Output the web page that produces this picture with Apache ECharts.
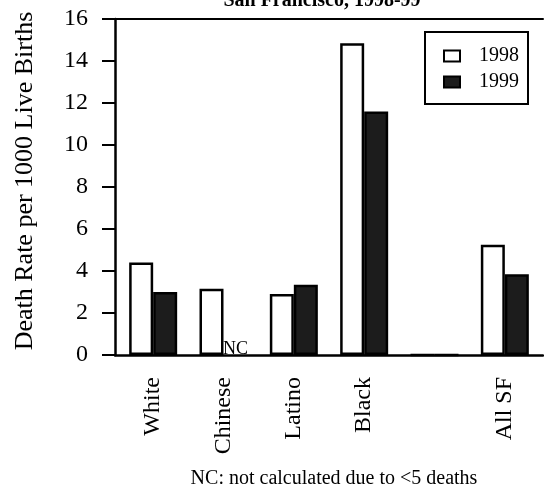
<!DOCTYPE html>
<html>
<head>
<meta charset="utf-8">
<script src="https://cdn.jsdelivr.net/npm/echarts@6/dist/echarts.min.js"></script>
<style>
  html, body { margin: 0; padding: 0; background: #fff; }
  #chart { width: 544px; height: 486px; }
</style>
</head>
<body>
<div id="chart"></div>
<script>
// Infant death rates by group, San Francisco 1998-99
const categories = ['White', 'Chinese', 'Latino', 'Black', '', 'All SF'];
const rates1998 = [4.4, 3.15, 2.9, 14.85, 0, 5.25];
const rates1999 = [3.0, 0, 3.35, 11.6, 0, 3.85];
const notCalculated1999 = [false, true, false, false, false, false];
const yTicks = { min: 0, max: 16, interval: 2 };

const SERIF = '"Liberation Serif", "DejaVu Serif", serif';
const DARK = '#1c1c1c';

const chart = echarts.init(document.getElementById('chart'), null, { renderer: 'canvas' });

const data1999 = rates1999.map((v, i) => notCalculated1999[i]
  ? {
      value: v,
      itemStyle: { borderWidth: 0, color: 'rgba(0,0,0,0)' },
      label: {
        show: true, position: 'top', distance: -3, formatter: 'NC',
        fontFamily: SERIF, fontSize: 18, color: '#000'
      }
    }
  : v);

chart.setOption({
  animation: false,
  backgroundColor: '#fff',
  title: [
    {
      text: 'San Francisco, 1998-99',
      left: 317, top: -14, textAlign: 'center',
      textStyle: { fontFamily: SERIF, fontSize: 20, fontWeight: 'bold', color: '#000' }
    },
    {
      text: 'NC: not calculated due to <5 deaths',
      left: 329, top: 464, textAlign: 'center',
      textStyle: { fontFamily: SERIF, fontSize: 20, fontWeight: 'normal', color: '#000' }
    }
  ],
  legend: {
    orient: 'vertical',
    left: 425, top: 32,
    padding: [14, 9, 12, 18],
    itemGap: 6,
    itemWidth: 16, itemHeight: 11,
    borderColor: '#000', borderWidth: 2,
    icon: 'rect',
    textStyle: { fontFamily: SERIF, fontSize: 20, color: '#000', padding: [0, 0, 0, 14] },
    data: ['1998', '1999']
  },
  grid: [
    { left: 115, right: 1, top: 19, bottom: 131 },
    { left: 118, right: 4, top: 19, bottom: 131 }
  ],
  xAxis: [
    {
      gridIndex: 0, type: 'category', data: categories, position: 'bottom',
      axisLine: { show: true, lineStyle: { color: '#000', width: 2.5 } },
      axisTick: { show: false }, axisLabel: { show: false }, splitLine: { show: false }
    },
    {
      gridIndex: 0, type: 'category', data: categories, position: 'top',
      axisLine: { show: true, lineStyle: { color: '#000', width: 2 } },
      axisTick: { show: false }, axisLabel: { show: false }, splitLine: { show: false }
    },
    {
      gridIndex: 1, type: 'category', data: categories, position: 'bottom',
      axisLine: { show: false }, axisTick: { show: false },
      axisLabel: {
        show: true, rotate: 90, margin: 22, interval: 0,
        fontFamily: SERIF, fontSize: 24, color: '#000'
      },
      splitLine: { show: false }
    }
  ],
  yAxis: [
    {
      gridIndex: 0, type: 'value',
      min: yTicks.min, max: yTicks.max, interval: yTicks.interval,
      name: 'Death Rate per 1000 Live Births',
      nameLocation: 'middle', nameRotate: 90, nameGap: 77,
      nameTextStyle: { fontFamily: SERIF, fontSize: 26, color: '#000', padding: [0, 0, 0, 12] },
      axisLine: { show: true, lineStyle: { color: '#000', width: 2.5 } },
      axisTick: { show: true, length: 13, lineStyle: { color: '#000', width: 2 } },
      axisLabel: {
        show: true, margin: 27, fontFamily: SERIF, fontSize: 24, color: '#000',
        padding: [0, 0, 7, 0]
      },
      splitLine: { show: false }
    },
    {
      gridIndex: 1, type: 'value',
      min: yTicks.min, max: yTicks.max, interval: yTicks.interval,
      show: false, splitLine: { show: false }
    }
  ],
  series: [
    {
      name: '1998', type: 'bar', xAxisIndex: 2, yAxisIndex: 1,
      data: rates1998,
      barWidth: 24, barGap: '0%',
      itemStyle: { color: '#fff', borderColor: '#000', borderWidth: 2.5 }
    },
    {
      name: '1999', type: 'bar', xAxisIndex: 2, yAxisIndex: 1,
      data: data1999,
      barWidth: 24, barGap: '0%',
      itemStyle: { color: DARK, borderColor: '#000', borderWidth: 2.5 }
    }
  ]
});
</script>
</body>
</html>
